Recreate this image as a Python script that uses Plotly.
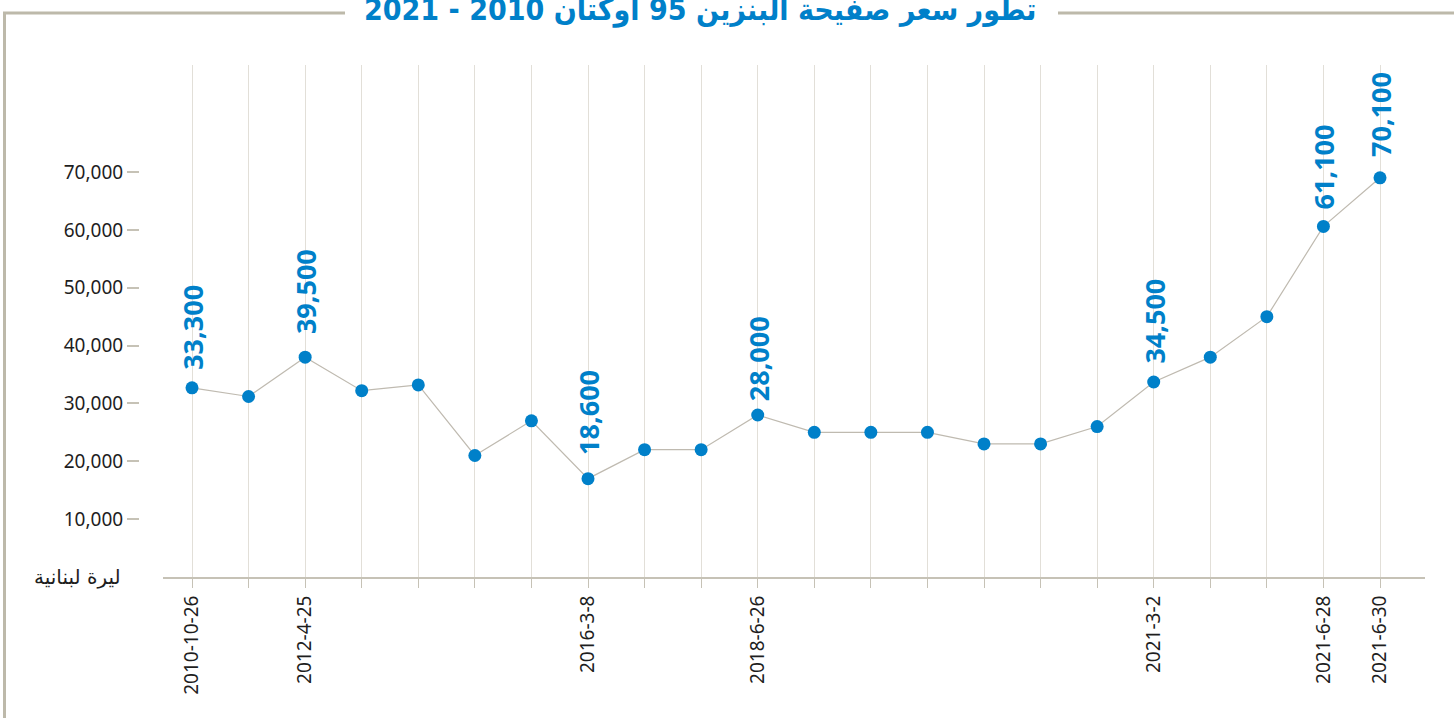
import plotly.graph_objects as go

# ---------------- data ----------------
dates = ["2010-10-26", "", "2012-4-25", "", "", "", "", "2016-3-8", "", "",
         "2018-6-26", "", "", "", "", "", "", "2021-3-2", "", "", "2021-6-28", "2021-6-30"]
prices = [32700, 31200, 38000, 32200, 33200, 21000, 27000, 17000, 22000, 22000,
          28000, 25000, 25000, 25000, 23000, 23000, 26000, 33700, 38000, 45000, 60600, 69000]
label_idx = [0, 2, 7, 10, 17, 20, 21]
label_vals = [33300, 39500, 18600, 28000, 34500, 61100, 70100]
ytick_vals = [10000, 20000, 30000, 40000, 50000, 60000, 70000]
ytick_text = ["10,000", "20,000", "30,000", "40,000", "50,000", "60,000", "70,000"]
unit_label = "ليرة لبنانية"
title_text = "تطور سعر صفيحة البنزين 95 أوكتان 2010 - 2021"

# ---------------- layout geometry ----------------
W, H = 1454, 718
ML, MR, MT, MB = 139, 29, 65, 141
PW, PH = W - ML - MR, H - MT - MB

def px(p):
    return (p - ML) / PW

def py(p):
    return (H - MB - p) / PH

BLUE = "#0080c9"
GRID = "#e2dfd8"
AXIS = "#c6c2b6"
BORDER = "#bdb9aa"
TXT = "#1e1e1e"

x = list(range(len(prices)))

fig = go.Figure()
fig.add_trace(go.Scatter(
    x=x, y=prices, mode="lines+markers",
    line=dict(color="#bfbab0", width=1.2),
    marker=dict(color=BLUE, size=13),
    hoverinfo="skip", showlegend=False,
))

annotations = []
for i, v in zip(label_idx, label_vals):
    annotations.append(dict(
        x=i, y=v, xref="x", yref="y", text=f"{v:,}", textangle=-90,
        showarrow=False, xanchor="center", yanchor="bottom", yshift=12, xshift=1,
        font=dict(family="Noto Sans", size=27, color=BLUE, weight="bold"),
    ))

annotations.append(dict(
    x=0, y=0, xref="paper", yref="y", text=unit_label, showarrow=False,
    xanchor="right", yanchor="middle", xshift=-16,
    font=dict(family="DejaVu Sans", size=20, color=TXT),
))

annotations.append(dict(
    x=px(700), y=py(9), xref="paper", yref="paper", text="<b>" + title_text + "</b>",
    showarrow=False, xanchor="center", yanchor="middle",
    font=dict(family="DejaVu Sans Condensed, DejaVu Sans", size=30, color=BLUE),
))

shapes = [
    dict(type="line", xref="paper", yref="paper", x0=px(3), x1=px(345), y0=py(13), y1=py(13),
         line=dict(color=BORDER, width=3)),
    dict(type="line", xref="paper", yref="paper", x0=px(1058), x1=px(1460), y0=py(13), y1=py(13),
         line=dict(color=BORDER, width=3)),
    dict(type="line", xref="paper", yref="paper", x0=px(4.5), x1=px(4.5), y0=py(12), y1=py(730),
         line=dict(color=BORDER, width=3)),
]

x0_idx = 192
step = (1380 - 192) / 21
fig.update_layout(
    width=W, height=H,
    margin=dict(l=ML, r=MR, t=MT, b=MB, pad=0),
    paper_bgcolor="white", plot_bgcolor="white",
    font=dict(family="Noto Sans", color=TXT),
    annotations=annotations, shapes=shapes,
    xaxis=dict(
        domain=[px(163), 1],
        range=[(163 - x0_idx) / step, (1425 - x0_idx) / step],
        tickmode="array", tickvals=x, ticktext=dates, tickangle=-90,
        ticks="outside", ticklen=9, tickcolor=AXIS, tickwidth=1,
        showgrid=True, gridcolor=GRID, gridwidth=1,
        showline=True, linecolor=AXIS, linewidth=2, zeroline=False,
        tickfont=dict(family="Noto Sans", size=19, color=TXT),
    ),
    yaxis=dict(
        anchor="free", position=0,
        range=[0, (577 - 65) / ((577 - 172) / 70000)],
        tickmode="array", tickvals=ytick_vals, ticktext=ytick_text,
        ticks="outside", ticklen=12, tickcolor=AXIS, tickwidth=1.5,
        showgrid=False, showline=False, zeroline=False,
        tickfont=dict(family="Noto Sans", size=19, color=TXT),
    ),
)

fig.write_html("out.html", post_script="document.body.style.margin='0';",
               config={"displayModeBar": False})
